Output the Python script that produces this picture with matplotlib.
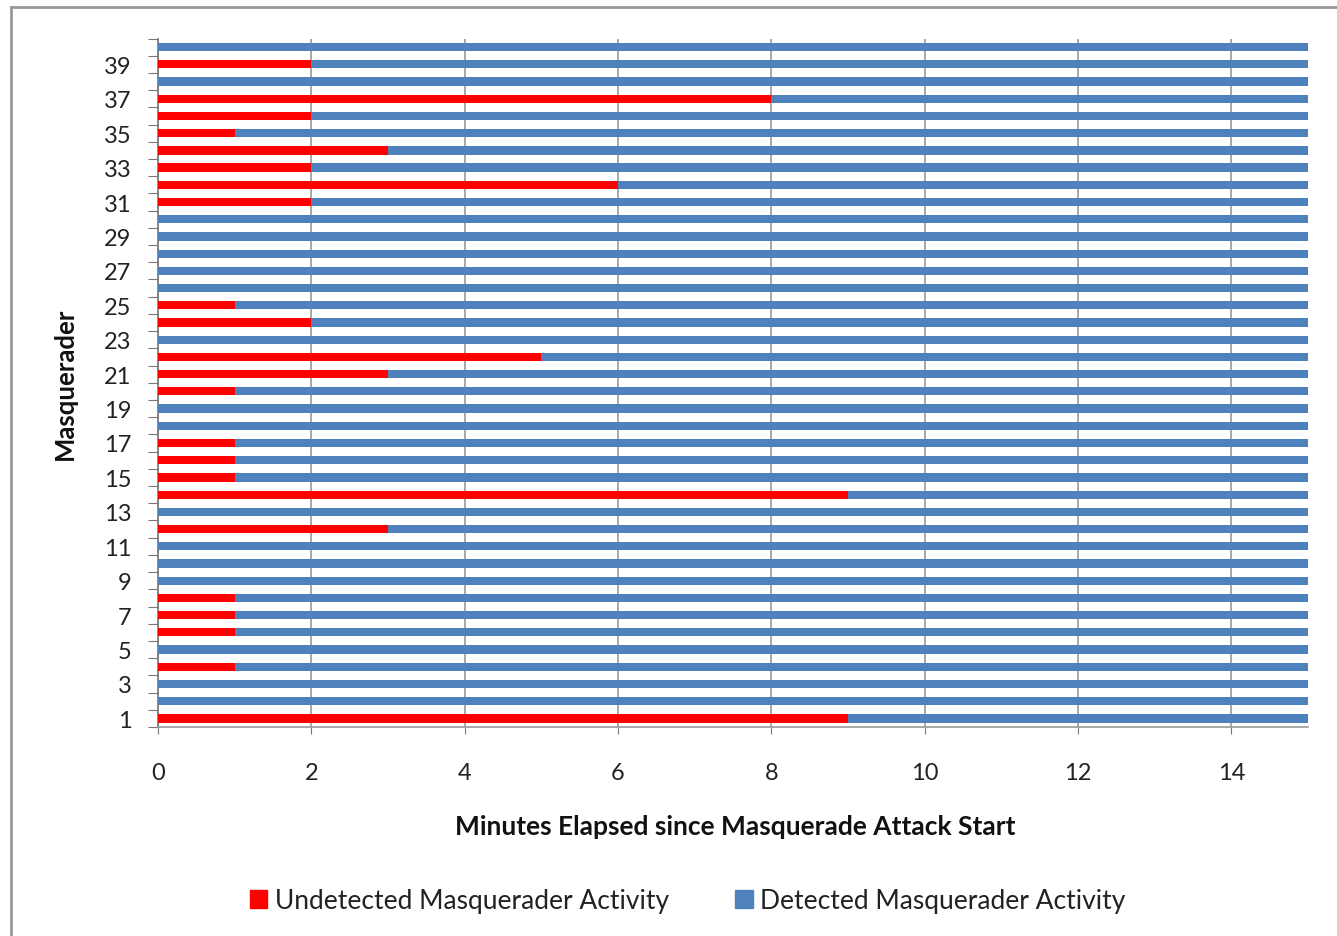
import numpy as np
import matplotlib
matplotlib.use("Agg")
import matplotlib.pyplot as plt
from matplotlib.lines import Line2D
from matplotlib.patches import Patch

# data
masqueraders = list(range(1, 41))
undetected = [9, 0, 0, 1, 0, 1, 1, 1, 0, 0,
              0, 3, 0, 9, 1, 1, 1, 0, 0, 1,
              3, 5, 0, 2, 1, 0, 0, 0, 0, 0,
              2, 6, 2, 3, 1, 2, 8, 0, 2, 0]
total_minutes = 15
detected = [total_minutes - u for u in undetected]
x_ticks = [0, 2, 4, 6, 8, 10, 12, 14]
y_labels = [str(m) for m in masqueraders if m % 2 == 1]

red = "#ff0000"
blue = "#4f81bd"
plt.rcParams['font.family'] = ['Lato', 'DejaVu Sans']

fig = plt.figure(figsize=(13.37, 9.37), dpi=100)
W, H = 1337, 937
ax_w, ax_h = 1308 - 158, 728 - 39.5
ax = fig.add_axes([158 / W, 1 - 728 / H, ax_w / W, ax_h / H])

ax.barh(masqueraders, undetected, height=0.48, color=red, zorder=3)
ax.barh(masqueraders, detected, left=undetected, height=0.48, color=blue, zorder=3)

ax.set_xlim(0, total_minutes)
ax.set_ylim(0.5, 40.5)

ax.set_xticks(x_ticks)
ax.set_xticklabels([str(t) for t in x_ticks], fontsize=17, color="#222222")
ax.tick_params(axis='x', length=5, direction='out', color="#777777", pad=20)
ax.grid(axis='x', color="#999999", linewidth=1.2, zorder=0)

# boundaries get tick marks, odd categories get labels
ax.set_yticks(np.arange(0.5, 41, 1))
ax.set_yticklabels([])
ax.set_yticks([m for m in masqueraders if m % 2 == 1], minor=True)
ax.set_yticklabels(y_labels, minor=True, fontsize=17, color="#222222")
ax.tick_params(axis='y', which='major', length=7, direction='out', color="#777777")
ax.tick_params(axis='y', which='minor', length=0, pad=19)

for s in ['top', 'right']:
    ax.spines[s].set_visible(False)
ax.spines['left'].set_color("#777777")
ax.spines['bottom'].set_color("#999999")
ax.spines['left'].set_linewidth(1.2)
ax.spines['bottom'].set_linewidth(1.2)

ax.set_xlabel("Minutes Elapsed since Masquerade Attack Start", fontsize=19,
              fontweight='bold', color="#111111")
ax.xaxis.set_label_coords((735 - 158) / ax_w, -(815 - 728) / ax_h)
ax.set_ylabel("Masquerader", fontsize=18.5, fontweight='bold', color="#111111")
ax.yaxis.set_label_coords(-(158 - 77) / ax_w, (728 - 384) / ax_h)

handles = [Patch(color=red, label="Undetected Masquerader Activity"),
           Patch(color=blue, label="Detected Masquerader Activity")]
fig.legend(handles=handles, loc='center', bbox_to_anchor=(688 / W, 1 - 902 / H),
           ncol=2, frameon=False, fontsize=19, handlelength=0.65, handleheight=0.65,
           handletextpad=0.3, columnspacing=2.5, labelcolor="#222222")

# outer chart frame (left and top edges visible)
fig.add_artist(Line2D([11 / W, 11 / W], [0, 1 - 8 / H], transform=fig.transFigure,
                      color="#999999", linewidth=2))
fig.add_artist(Line2D([11 / W, 1], [1 - 8 / H, 1 - 8 / H], transform=fig.transFigure,
                      color="#999999", linewidth=2))

fig.savefig("out.png", dpi=100)
